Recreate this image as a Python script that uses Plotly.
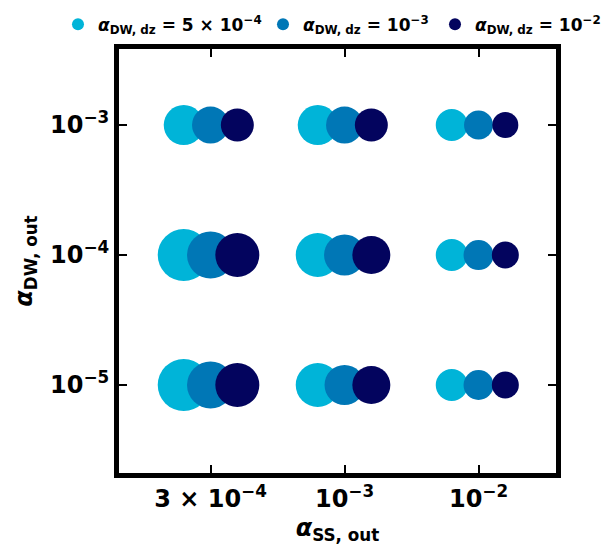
import plotly.graph_objects as go

# ---- data ----
x_labels = ["3 × 10<sup>−4</sup>", "10<sup>−3</sup>", "10<sup>−2</sup>"]
y_labels = ["10<sup>−5</sup>", "10<sup>−4</sup>", "10<sup>−3</sup>"]
x_index = [0, 1, 2]                 # alpha_SS,out categories
y_log = [-5, -4, -3]                # log10 alpha_DW,out

series_names = [
    "<i>α</i><sub>DW, dz</sub> = 5 × 10<sup>−4</sup>",
    "<i>α</i><sub>DW, dz</sub> = 10<sup>−3</sup>",
    "<i>α</i><sub>DW, dz</sub> = 10<sup>−2</sup>",
]
series_colors = ["#00B4D8", "#0077B6", "#03045E"]
series_offsets = [-0.2, 0.0, 0.2]
legend_widths = [160, 127, 135]

# bubble size values, per series, rows = y (1e-5, 1e-4, 1e-3), cols = x
size_dz_5e4 = [[52, 44, 32], [52, 44, 32], [40, 40, 32]]
size_dz_1e3 = [[47, 40, 30], [47, 41, 30], [37, 37, 29]]
size_dz_1e2 = [[44, 38, 27], [44, 38, 27], [33, 33, 26]]
series_sizes = [size_dz_5e4, size_dz_1e3, size_dz_1e2]

FONT = "DejaVu Sans"

fig = go.Figure()
for name, color, off, sizes, lw in zip(series_names, series_colors, series_offsets,
                                       series_sizes, legend_widths):
    xs, ys, ss = [], [], []
    for yi, yv in enumerate(y_log):
        for xi, xv in enumerate(x_index):
            xs.append(xv + off)
            ys.append(yv)
            ss.append(sizes[yi][xi])
    fig.add_trace(go.Scatter(
        x=xs, y=ys, mode="markers", name=name, legendwidth=lw,
        marker=dict(size=ss, color=color, opacity=1, line=dict(width=0)),
    ))

axis_common = dict(
    showline=True, linewidth=5, linecolor="black", mirror="ticks",
    ticks="inside", ticklen=8, tickwidth=2, tickcolor="black",
    showgrid=False, zeroline=False, automargin=False,
    tickfont=dict(family=FONT, size=24, color="black", weight="bold"),
)

fig.update_layout(
    width=607, height=547,
    margin=dict(l=119, r=51, t=49, b=74, autoexpand=False),
    paper_bgcolor="white", plot_bgcolor="white",
    font=dict(family=FONT, color="black", weight="bold"),
    xaxis=dict(
        range=[-0.683, 2.578], tickvals=x_index, ticktext=x_labels,
        title=dict(text="<i>α</i><sub>SS, out</sub>",
                   font=dict(family=FONT, size=24, color="black", weight="bold"),
                   standoff=9),
        **axis_common,
    ),
    yaxis=dict(
        range=[-5.677, -2.415], tickvals=y_log, ticktext=y_labels,
        title=dict(text="<i>α</i><sub>DW, out</sub>",
                   font=dict(family=FONT, size=24, color="black", weight="bold"),
                   standoff=12),
        **axis_common,
    ),
    legend=dict(
        orientation="h",
        x=-0.1396, xanchor="left", y=1.015, yanchor="bottom",
        font=dict(family=FONT, size=17, color="black", weight="bold"),
        itemsizing="constant", traceorder="normal",
        bgcolor="rgba(0,0,0,0)", itemwidth=30,
    ),
    showlegend=True,
)

fig.write_html("out.html", config={"displayModeBar": False},
               post_script="document.body.style.margin='0';")
